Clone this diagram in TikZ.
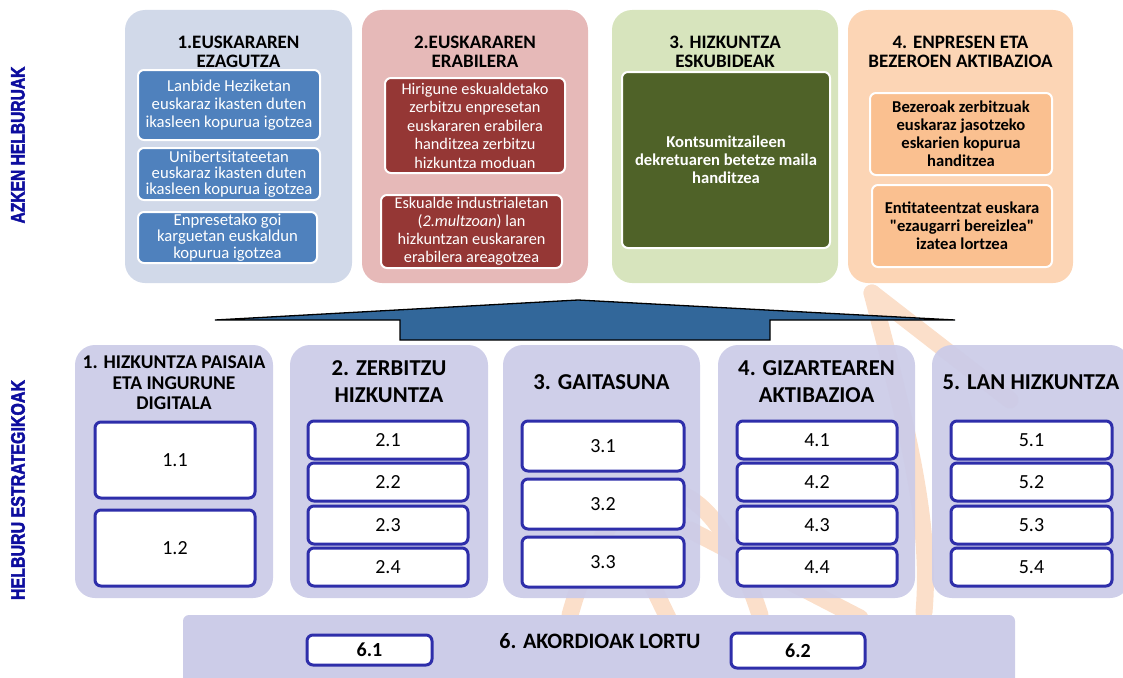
\documentclass[tikz,border=0pt]{standalone}
\usepackage{fontspec}
\setmainfont{Carlito}
\newfontfamily\qfont{Carlito}[Ligatures=TeXOff]
\newfontfamily\lblfont{Liberation Sans}[BoldFeatures={FakeBold=2.5}]
\definecolor{pAbg}{HTML}{D1D9E9}
\definecolor{pAbox}{HTML}{4F81BD}
\definecolor{pBbg}{HTML}{E6B9B8}
\definecolor{pBbox}{HTML}{953735}
\definecolor{pCbg}{HTML}{D7E4BD}
\definecolor{pCbox}{HTML}{4F6228}
\definecolor{pDbg}{HTML}{FCD5B5}
\definecolor{pDbox}{HTML}{FAC090}
\definecolor{colbg}{HTML}{CCCCE8}
\definecolor{boxblue}{HTML}{2E2EAA}
\definecolor{arrowblue}{HTML}{32679A}
\definecolor{lblblue}{HTML}{0D0D9E}
\definecolor{wmark}{HTML}{FBDFCA}
\tikzset{
  panel/.style={rounded corners=20pt, draw=none, inner sep=0pt},
  ptitle/.style={align=center, inner sep=0pt, font=\fontsize{19}{19.5}\selectfont\bfseries},
  sub/.style={rounded corners=6pt, draw=white, line width=2pt, align=center, inner sep=0pt},
  subtxt/.style={text=white, font=\fontsize{16.7}{18}\selectfont},
  colbox/.style={rounded corners=20pt, fill=colbg, fill opacity=0.95, draw=none, minimum width=198pt, minimum height=253pt, inner sep=0pt},
  ctitle/.style={align=center, inner sep=0pt, font=\fontsize{22.7}{27}\selectfont\bfseries},
  numbox/.style={rounded corners=6pt, draw=boxblue, line width=3pt, fill=white, inner sep=0pt, font=\fontsize{20}{24}\selectfont},
  sidelbl/.style={rotate=90, text=lblblue, inner sep=0pt, font=\lblfont\fontsize{19.5}{22}\selectfont\bfseries},
  wm/.style={draw=wmark, line width=17pt, line cap=round}
}
\begin{document}
\begin{tikzpicture}[x=1pt,y=-1pt]
\useasboundingbox (0,0) rectangle (1123,677);
\clip (0,0) rectangle (1123,677);
% watermark (faint logo behind)
\draw[wm] (872,293) -- (1010,400);
\draw[wm] (872,293) .. controls (905,420) and (932,520) .. (924,612);
\draw[wm] (570,615) .. controls (610,470) and (700,430) .. (760,615);
\draw[wm] (690,530) -- (860,618);
\draw[wm] (640,560) -- (668,618);

% side labels
\node[sidelbl] (L1) at (18,145) {\scalebox{0.8}[1]{AZKEN HELBURUAK}};
\node[sidelbl] (L2) at (18,490) {\scalebox{0.82}[1]{HELBURU ESTRATEGIKOAK}};

% top panels
\node[panel, fill=pAbg, minimum width=227pt, minimum height=273pt] (P1) at (238.5,146.5) {};
\node[panel, fill=pBbg, minimum width=226pt, minimum height=273pt] (P2) at (475,146.5) {};
\node[panel, fill=pCbg, minimum width=226pt, minimum height=273pt] (P3) at (725,146.5) {};
\node[panel, fill=pDbg, minimum width=225pt, minimum height=273pt] (P4) at (960.5,146.5) {};

\node[ptitle] (T1) at (238.5,52) {1.EUSKARAREN\\EZAGUTZA};
\node[ptitle] (T2) at (475,52) {2.EUSKARAREN\\ERABILERA};
\node[ptitle] (T3) at (725,52) {3. HIZKUNTZA\\ESKUBIDEAK};
\node[ptitle] (T4) at (960.5,52) {4. ENPRESEN ETA\\BEZEROEN AKTIBAZIOA};

\node[sub, subtxt, fill=pAbox, minimum width=182pt, minimum height=70pt] (A1) at (229,105) {Lanbide Heziketan\\euskaraz ikasten duten\\ikasleen kopurua igotzea};
\node[sub, subtxt, fill=pAbox, minimum width=182pt, minimum height=52pt, font=\fontsize{16.7}{16.3}\selectfont] (A2) at (229,174) {Unibertsitateetan\\euskaraz ikasten duten\\ikasleen kopurua igotzea};
\node[sub, subtxt, fill=pAbox, minimum width=179pt, minimum height=51pt, font=\fontsize{16.7}{16.3}\selectfont] (A3) at (227.5,237.5) {Enpresetako goi\\karguetan euskaldun\\kopurua igotzea};

\node[sub, subtxt, fill=pBbox, minimum width=180pt, minimum height=95pt, font=\fontsize{16.3}{18.5}\selectfont] (B1) at (475,125.5) {Hirigune eskualdetako\\zerbitzu enpresetan\\euskararen erabilera\\handitzea zerbitzu\\hizkuntza moduan};
\node[sub, subtxt, fill=pBbox, minimum width=181pt, minimum height=73pt, font=\fontsize{16.3}{18}\selectfont] (B2) at (471.5,231.5) {Eskualde industrialetan\\(\textit{2.multzoan}) lan\\hizkuntzan euskararen\\erabilera areagotzea};

\node[sub, subtxt, fill=pCbox, minimum width=208pt, minimum height=176pt, font=\fontsize{16.6}{18}\selectfont\bfseries] (C1) at (726,160) {Kontsumitzaileen\\dekretuaren betetze maila\\handitzea};

\node[sub, fill=pDbox, minimum width=182pt, minimum height=82pt, font=\fontsize{16.6}{18}\selectfont\bfseries] (D1) at (961,134) {Bezeroak zerbitzuak\\euskaraz jasotzeko\\eskarien kopurua\\handitzea};
\node[sub, fill=pDbox, minimum width=180pt, minimum height=82pt, font=\fontsize{16.6}{18}\selectfont\bfseries] (D2) at (962,226) {Entitateentzat euskara\\{\qfont\bfseries"}ezaugarri bereizlea{\qfont\bfseries"}\\izatea lortzea};

% arrow
\coordinate (AL) at (215,320);
\coordinate (AT) at (578,300);
\coordinate (AR) at (955,320);
\draw[fill=arrowblue, draw=black, line width=1.3pt, line join=miter]
  (AL) -- (AT) -- (AR) -- (770,320) -- (770,340) -- (400,340) -- (400,320) -- cycle;

% bottom columns
\node[colbox] (K1) at (174,471.5) {};
\node[colbox] (K2) at (389,471.5) {};
\node[colbox, minimum width=197pt] (K3) at (601.5,471.5) {};
\node[colbox, minimum width=197pt] (K4) at (816.5,471.5) {};
\node[colbox] (K5) at (1031,471.5) {};

\node[ctitle, font=\fontsize{19.5}{20.5}\selectfont\bfseries] (H1) at (174,383) {1. HIZKUNTZA PAISAIA\\ETA INGURUNE\\DIGITALA};
\node[ctitle] (H2) at (389,381.5) {2. ZERBITZU\\HIZKUNTZA};
\node[ctitle] (H3) at (601.5,382) {3. GAITASUNA};
\node[ctitle] (H4) at (816.5,381.5) {4. GIZARTEAREN\\AKTIBAZIOA};
\node[ctitle] (H5) at (1031,382) {5. LAN HIZKUNTZA};

\node[numbox, minimum width=160pt, minimum height=76pt] (n11) at (175,460) {1.1};
\node[numbox, minimum width=160pt, minimum height=76pt] (n12) at (175,548) {1.2};

\foreach \i/\y in {1/440,2/482,3/525,4/567}{
  \node[numbox, minimum width=160pt, minimum height=38pt] (n2\i) at (388,\y) {2.\i};
  \node[numbox, minimum width=160pt, minimum height=38pt] (n4\i) at (817,\y) {4.\i};
  \node[numbox, minimum width=161pt, minimum height=38pt] (n5\i) at (1031.5,\y) {5.\i};
}
\foreach \i/\y in {1/446,2/504,3/562}{
  \node[numbox, minimum width=162pt, minimum height=50pt] (n3\i) at (603,\y) {3.\i};
}

% bottom bar
\node[rounded corners=6pt, fill=colbg, draw=none, minimum width=832pt, minimum height=80pt, inner sep=0pt] (BAR) at (599,655) {};
\node[inner sep=0pt, font=\fontsize{22}{24}\selectfont\bfseries] (BT) at (600,641) {6. AKORDIOAK LORTU};
\node[numbox, minimum width=125pt, minimum height=30pt, font=\fontsize{20}{22}\selectfont\bfseries] (n61) at (369.5,650) {6.1};
\node[numbox, minimum width=134pt, minimum height=35pt, font=\fontsize{20}{22}\selectfont\bfseries] (n62) at (798,650.5) {6.2};
\end{tikzpicture}
\end{document}
